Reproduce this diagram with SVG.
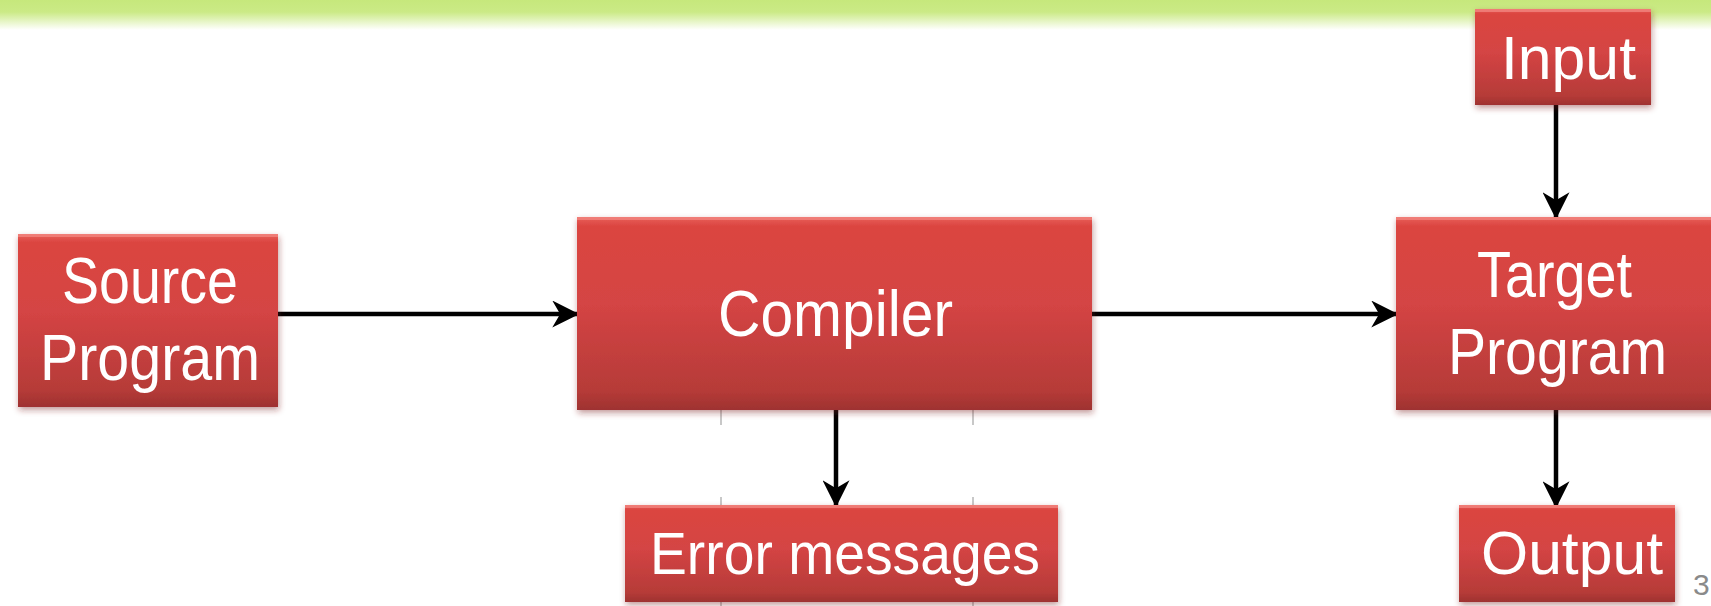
<svg xmlns="http://www.w3.org/2000/svg" width="1711" height="606" viewBox="0 0 1711 606">
  <defs>
    <linearGradient id="band" x1="0" y1="0" x2="0" y2="1">
      <stop offset="0" stop-color="#c6e87c"/>
      <stop offset="0.4" stop-color="#cbea86"/>
      <stop offset="1" stop-color="#ffffff"/>
    </linearGradient>
    <linearGradient id="boxFill" x1="0" y1="0" x2="0" y2="1">
      <stop offset="0" stop-color="#e8605a"/>
      <stop offset="0.05" stop-color="#db4440"/>
      <stop offset="0.45" stop-color="#d44444"/>
      <stop offset="0.9" stop-color="#b63b38"/>
      <stop offset="1" stop-color="#9e3230"/>
    </linearGradient>
    <filter id="shadow" x="-10%" y="-10%" width="120%" height="130%">
      <feGaussianBlur in="SourceAlpha" stdDeviation="3"/>
      <feOffset dx="1" dy="3" result="b"/>
      <feFlood flood-color="#7a2020" flood-opacity="0.45"/>
      <feComposite in2="b" operator="in"/>
      <feMerge>
        <feMergeNode/>
        <feMergeNode in="SourceGraphic"/>
      </feMerge>
    </filter>
    <marker id="arrow" viewBox="0 0 12 12" refX="11" refY="6" markerWidth="6" markerHeight="6" markerUnits="strokeWidth" orient="auto">
      <path d="M0,0 L12,6 L0,12 L3.5,6 Z" fill="#000"/>
    </marker>
  </defs>
  <style>
    .box { fill: url(#boxFill); filter: url(#shadow); }
    .hi { fill: #f38a84; opacity: 0.7; }
    .lbl { fill: #ffffff; font-family: "Liberation Sans", Arial, sans-serif; text-anchor: start; }
    .conn { stroke: #000; stroke-width: 4.5; fill: none; marker-end: url(#arrow); }
    .ghost { stroke: #c8c8c8; stroke-width: 2; }
    .pg { fill: #8a8a8a; font-family: "Liberation Sans", Arial, sans-serif; font-size: 30px; }
  </style>

  <rect width="1711" height="606" fill="#ffffff"/>
  <!-- title band fading into the page -->
  <rect x="0" y="0" width="1711" height="30" fill="url(#band)"/>

  <!-- faint guide marks under the compiler -->
  <g id="guides">
    <line class="ghost" x1="721" y1="410" x2="721" y2="425"/>
    <line class="ghost" x1="973" y1="410" x2="973" y2="425"/>
    <line class="ghost" x1="721" y1="497" x2="721" y2="506"/>
    <line class="ghost" x1="973" y1="497" x2="973" y2="506"/>
    <line class="ghost" x1="721" y1="600" x2="721" y2="606"/>
    <line class="ghost" x1="973" y1="600" x2="973" y2="606"/>
  </g>

  <g id="connectors">
    <line class="conn" x1="278" y1="314" x2="577" y2="314"/>
    <line class="conn" x1="1092" y1="314" x2="1396" y2="314"/>
    <line class="conn" x1="836" y1="410" x2="836" y2="505"/>
    <line class="conn" x1="1556" y1="105" x2="1556" y2="217"/>
    <line class="conn" x1="1556" y1="410" x2="1556" y2="506"/>
  </g>

  <g id="source-program">
    <rect class="box" x="18" y="234" width="260" height="173"/>
    <rect class="hi" x="18" y="234" width="260" height="3"/>
    <text class="lbl" x="62" y="303" font-size="64" textLength="176" lengthAdjust="spacingAndGlyphs">Source</text>
    <text class="lbl" x="40" y="380" font-size="64" textLength="220" lengthAdjust="spacingAndGlyphs">Program</text>
  </g>

  <g id="compiler">
    <rect class="box" x="577" y="217" width="515" height="193"/>
    <rect class="hi" x="577" y="217" width="515" height="3"/>
    <text class="lbl" x="718" y="336" font-size="64" textLength="235" lengthAdjust="spacingAndGlyphs">Compiler</text>
  </g>

  <g id="error-messages">
    <rect class="box" x="625" y="505" width="433" height="97"/>
    <rect class="hi" x="625" y="505" width="433" height="3"/>
    <text class="lbl" x="650" y="574" font-size="60" textLength="390" lengthAdjust="spacingAndGlyphs">Error messages</text>
  </g>

  <g id="input">
    <rect class="box" x="1475" y="9" width="176" height="96"/>
    <rect class="hi" x="1475" y="9" width="176" height="3"/>
    <text class="lbl" x="1501" y="79" font-size="62" textLength="135" lengthAdjust="spacingAndGlyphs">Input</text>
  </g>

  <g id="target-program">
    <rect class="box" x="1396" y="217" width="330" height="193"/>
    <rect class="hi" x="1396" y="217" width="330" height="3"/>
    <text class="lbl" x="1477" y="297" font-size="64" textLength="155" lengthAdjust="spacingAndGlyphs">Target</text>
    <text class="lbl" x="1448" y="374" font-size="64" textLength="219" lengthAdjust="spacingAndGlyphs">Program</text>
  </g>

  <g id="output">
    <rect class="box" x="1459" y="505" width="216" height="97"/>
    <rect class="hi" x="1459" y="505" width="216" height="3"/>
    <text class="lbl" x="1481" y="574" font-size="62" textLength="182" lengthAdjust="spacingAndGlyphs">Output</text>
  </g>

  <text class="pg" x="1693" y="595">3</text>
</svg>
